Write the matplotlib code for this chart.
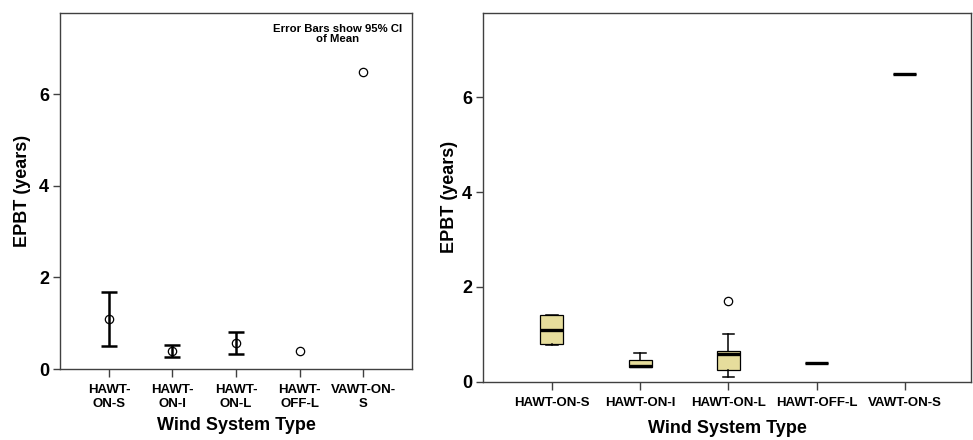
import matplotlib
matplotlib.use("Agg")
import matplotlib.pyplot as plt
import numpy as np

plt.rcParams['font.family'] = ['Liberation Sans', 'DejaVu Sans']
plt.rcParams['font.weight'] = 'bold'

# ---- data ----
categories = ["HAWT-ON-S", "HAWT-ON-I", "HAWT-ON-L", "HAWT-OFF-L", "VAWT-ON-S"]
left_ticklabels = ["HAWT-\nON-S", "HAWT-\nON-I", "HAWT-\nON-L", "HAWT-\nOFF-L", "VAWT-ON-\nS"]

# error-bar panel (mean with 95% CI)
means = [1.10, 0.39, 0.575, 0.39, 6.50]
ci_low = [0.51, 0.255, 0.335, np.nan, np.nan]
ci_high = [1.69, 0.53, 0.81, np.nan, np.nan]

# box-plot panel
q1 = [0.80, 0.31, 0.245, 0.39, 6.50]
med = [1.10, 0.33, 0.58, 0.39, 6.50]
q3 = [1.41, 0.465, 0.655, 0.39, 6.50]
whislo = [0.78, 0.31, 0.105, 0.39, 6.50]
whishi = [1.41, 0.60, 1.01, 0.39, 6.50]
fliers = [[], [], [1.70], [], []]

YMAX = 7.78
spine_col = '#404040'

fig = plt.figure(figsize=(9.73, 4.40), dpi=100)

# ---------- left panel ----------
ax1 = fig.add_axes([60/973, 1-369/440, 352/973, 356/440])
x = np.arange(len(categories))
for i in range(len(categories)):
    if not np.isnan(ci_low[i]):
        ax1.errorbar(x[i], means[i],
                     yerr=[[means[i]-ci_low[i]], [ci_high[i]-means[i]]],
                     fmt='none', ecolor='black', elinewidth=1.8, capsize=6, capthick=1.8)
ax1.plot(x, means, linestyle='none', marker='o', markersize=6,
         markerfacecolor='none', markeredgecolor='black', markeredgewidth=0.9)
ax1.set_xlim(-0.77, 4.77)
ax1.set_ylim(0, YMAX)
ax1.set_xticks(x)
ax1.set_xticklabels(left_ticklabels, fontsize=9.5, fontweight='bold', linespacing=1.15)
ax1.set_yticks([0, 2, 4, 6])
ax1.tick_params(axis='y', labelsize=13, length=5, width=1, pad=3, color=spine_col)
ax1.tick_params(axis='x', length=6, width=1, pad=5, color=spine_col)
for lbl in ax1.get_yticklabels():
    lbl.set_fontweight('bold')
ax1.set_ylabel("EPBT (years)", fontsize=13, fontweight='bold')
ax1.yaxis.set_label_coords((31-60)/352, 0.5)
ax1.set_xlabel("Wind System Type", fontsize=13, fontweight='bold')
ax1.xaxis.set_label_coords(0.5, -(417-369)/356)
ax1.text((338-60)/352, (369-34)/356, "Error Bars show 95% CI\nof Mean", transform=ax1.transAxes,
         ha='center', va='center', fontsize=8.2, fontweight='bold', linespacing=0.95)
for s in ax1.spines.values():
    s.set_color(spine_col)
    s.set_linewidth(1)

# ---------- right panel ----------
ax2 = fig.add_axes([483/973, 1-381.7/440, 488/973, 368.7/440])
stats = []
for i, c in enumerate(categories):
    stats.append(dict(label=c, q1=q1[i], med=med[i], q3=q3[i],
                      whislo=whislo[i], whishi=whishi[i], fliers=fliers[i]))
ax2.bxp(stats, positions=x, widths=0.26, patch_artist=True, showfliers=True,
        boxprops=dict(facecolor='#E6DD9C', edgecolor='black', linewidth=0.9),
        medianprops=dict(color='black', linewidth=2.4, solid_capstyle='butt'),
        whiskerprops=dict(color='black', linewidth=1.1),
        capprops=dict(color='black', linewidth=1.1),
        capwidths=0.13,
        flierprops=dict(marker='o', markersize=6, markerfacecolor='none',
                        markeredgecolor='black', markeredgewidth=0.9))
ax2.set_xlim(-0.78, 4.75)
ax2.set_ylim(0, YMAX)
ax2.set_xticks(x)
ax2.set_xticklabels(categories, fontsize=9.5, fontweight='bold')
ax2.set_yticks([0, 2, 4, 6])
ax2.tick_params(axis='y', labelsize=13, length=5, width=1, pad=3, color=spine_col)
ax2.tick_params(axis='x', length=6, width=1, pad=5, color=spine_col)
for lbl in ax2.get_yticklabels():
    lbl.set_fontweight('bold')
ax2.set_ylabel("EPBT (years)", fontsize=13, fontweight='bold')
ax2.yaxis.set_label_coords((458-483)/488, 0.5)
ax2.set_xlabel("Wind System Type", fontsize=13, fontweight='bold')
ax2.xaxis.set_label_coords(0.5, -(420-381.7)/368.7)
for s in ax2.spines.values():
    s.set_color(spine_col)
    s.set_linewidth(1)

fig.savefig("out.png", dpi=100)
